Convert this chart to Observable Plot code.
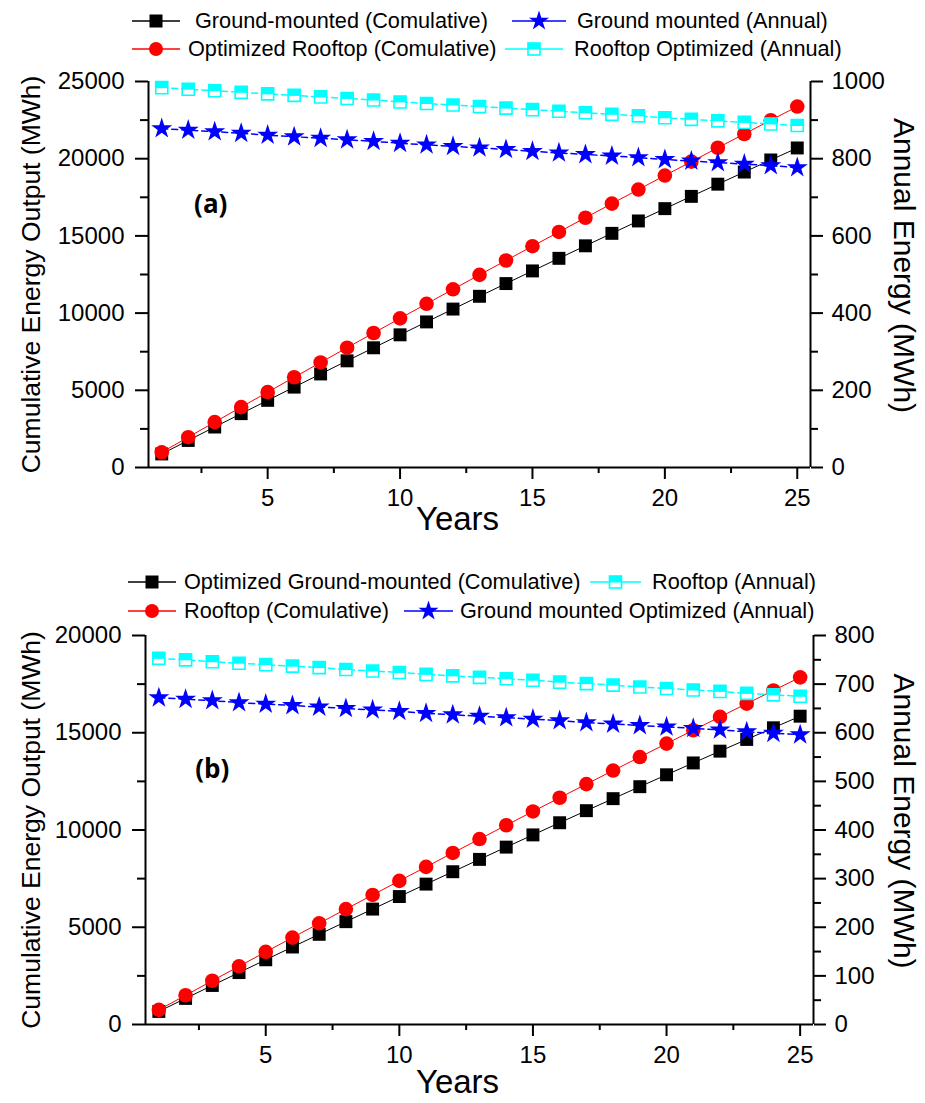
<!DOCTYPE html>
<html><head><meta charset="utf-8">
<script src="https://cdn.jsdelivr.net/npm/d3@7"></script>
<script src="https://cdn.jsdelivr.net/npm/@observablehq/plot@0.6"></script>
<style>
body{margin:0;background:#fff;}
#root{position:relative;width:925px;height:1103px;overflow:hidden;font-family:"Liberation Sans",Arial,sans-serif;background:#fff;}
.leg{position:absolute;display:flex;align-items:center;font-size:21.7px;white-space:nowrap;color:#000;transform:translateY(-50%);}
.leg svg{display:block;overflow:visible;}
.chart{position:absolute;left:0;}
</style></head><body><div id="root"></div>
<script>
// ---------- data ----------
const years = [1,2,3,4,5,6,7,8,9,10,11,12,13,14,15,16,17,18,19,20,21,22,23,24,25];

// Panel (a)
const groundCumA   = [878,1752,2622,3488,4349,5206,6059,6908,7753,8593,9429,10261,11089,11913,12732,13547,14358,15165,15968,16766,17560,18350,19136,19918,20695];
const roofOptCumA  = [984,1964,2940,3912,4880,5844,6804,7760,8712,9659,10602,11541,12476,13407,14334,15257,16176,17091,18002,18908,19810,20708,21602,22492,23378];
const groundAnnA   = [878,874,870,866,861,857,853,849,845,840,836,832,828,824,819,815,811,807,803,798,794,790,786,782,777];
const roofOptAnnA  = [984,980,976,972,968,964,960,956,952,947,943,939,935,931,927,923,919,915,911,906,902,898,894,890,886];

// Panel (b)
const optGroundCumB = [672,1341,2007,2669,3328,3984,4637,5287,5934,6578,7218,7855,8489,9120,9748,10373,10994,11612,12227,12839,13448,14054,14656,15255,15851];
const roofCumB      = [753,1503,2249,2992,3732,4469,5203,5933,6660,7384,8104,8821,9535,10246,10954,11658,12359,13057,13751,14442,15130,15815,16496,17174,17849];
const roofAnnB      = [753,750,746,743,740,737,734,730,727,724,720,717,714,711,708,704,701,698,694,691,688,685,681,678,675];
const groundOptAnnB = [672,669,666,662,659,656,653,650,647,644,640,637,634,631,628,625,621,618,615,612,609,606,602,599,596];

// ticks
const xMajor = [5,10,15,20,25];
const xMinor = [2.5,7.5,12.5,17.5,22.5];
const leftMajorA = [0,5000,10000,15000,20000,25000];
const leftMinorA = [2500,7500,12500,17500,22500];
const rightMajorA = [0,200,400,600,800,1000];
const rightMinorA = [100,300,500,700,900];
const leftMajorB = [0,5000,10000,15000,20000];
const leftMinorB = [2500,7500,12500,17500];
const rightMajorB = [0,100,200,300,400,500,600,700,800];
const rightMinorB = [50,150,250,350,450,550,650,750];

// labels
const legendA = ["Ground-mounted (Comulative)","Ground mounted (Annual)","Optimized Rooftop (Comulative)","Rooftop Optimized (Annual)"];
const legendB = ["Optimized Ground-mounted (Comulative)","Rooftop (Annual)","Rooftop (Comulative)","Ground mounted Optimized (Annual)"];
const xTitle = "Years";
const yLeftTitle = "Cumulative Energy Output (MWh)";
const yRightTitle = "Annual Energy (MWh)";

// ---------- styles ----------
const BLACK = "#000000", RED = "#ff0000", BLUE = "#0000ff", CYAN = "#00ffff";
const FONT = "'Liberation Sans', Arial, sans-serif";

const halfSquare = {
  draw(ctx, size) {
    const s = Math.sqrt(size) / 2;
    ctx.moveTo(-s, -s); ctx.lineTo(s, -s); ctx.lineTo(s, 0.5); ctx.lineTo(-s, 0.5); ctx.closePath();
  }
};

const rows = (vals) => years.map((yr, i) => ({year: yr, v: vals[i]}));

function seriesMarks(data, {color, symbol, r, dashed, width, halfFill}) {
  const marks = [
    Plot.line(data, {x: "year", y: "v", stroke: color, strokeWidth: width, strokeDasharray: dashed ? "6,4" : null})
  ];
  if (halfFill) {
    marks.push(Plot.dot(data, {x: "year", y: "v", symbol: "square", r, fill: "white", stroke: color, strokeWidth: 1.6}));
    marks.push(Plot.dot(data, {x: "year", y: "v", symbol: halfSquare, r, fill: color, stroke: "none"}));
  } else {
    marks.push(Plot.dot(data, {x: "year", y: "v", symbol, r, fill: color, stroke: "none"}));
  }
  return marks;
}

function makePanel(cfg) {
  const k = cfg.ratio;
  return Plot.plot({
    width: 925, height: cfg.height,
    marginLeft: cfg.ml, marginRight: cfg.mr, marginTop: cfg.mt, marginBottom: cfg.mb,
    x: {domain: [0.5, 25.5]},
    y: {domain: [0, cfg.yMax]},
    style: {fontFamily: FONT, fontSize: "24px", color: "#000", background: "transparent", overflow: "visible"},
    marks: [
      Plot.axisX(xMajor, {tickSize: 12, tickPadding: 9, strokeWidth: 2, fontSize: 24, label: null}),
      Plot.axisX(xMinor, {tickSize: 6, strokeWidth: 2, tickFormat: () => "", label: null}),
      Plot.axisY(cfg.leftMajor, {anchor: "left", tickSize: 13, tickPadding: 11, strokeWidth: 2, fontSize: 24, tickFormat: d => String(d), label: null}),
      Plot.axisY(cfg.leftMinor, {anchor: "left", tickSize: 8, strokeWidth: 2, tickFormat: () => "", label: null}),
      Plot.axisY(cfg.rightMajor.map(v => v * k), {anchor: "right", tickSize: 12, tickPadding: 9, strokeWidth: 2, fontSize: 24, tickFormat: d => String(Math.round(d / k)), label: null}),
      Plot.axisY(cfg.rightMinor.map(v => v * k), {anchor: "right", tickSize: 7, strokeWidth: 2, tickFormat: () => "", label: null}),
      Plot.ruleX([0.5, 25.5], {y1: 0, y2: cfg.yMax, stroke: "#000", strokeWidth: 2}),
      Plot.ruleY([0], {x1: 0.5, x2: 25.5, stroke: "#000", strokeWidth: 2}),
      ...seriesMarks(rows(cfg.cum1), {color: BLACK, symbol: "square", r: 7.3, width: 1}),
      ...seriesMarks(rows(cfg.cum2), {color: RED, symbol: "circle", r: 7.3, width: 1}),
      ...seriesMarks(rows(cfg.ann1.map(v => v * k)), {color: BLUE, symbol: "star", r: 6.6, dashed: true, width: 1.5}),
      ...seriesMarks(rows(cfg.ann2.map(v => v * k)), {color: CYAN, symbol: "square", r: 6.8, dashed: true, width: 1.5, halfFill: true}),
      Plot.text([xTitle], {text: d => d, frameAnchor: "bottom", dy: cfg.xTitleDy, dx: -22, fontSize: 33}),
      Plot.text([yLeftTitle], {text: d => d, frameAnchor: "left", textAnchor: "middle", rotate: -90, dx: -(cfg.ml - 31), fontSize: 26.5}),
      Plot.text([yRightTitle], {text: d => d, frameAnchor: "right", textAnchor: "middle", rotate: 90, dx: cfg.mr - 22, dy: -9, fontSize: 30}),
      Plot.text([cfg.tag], {text: d => d, x: cfg.tagX, y: cfg.tagY, fontSize: 26, fontWeight: "bold", fontFamily: "'Open Sans', sans-serif"})
    ]
  });
}

function swatch(kind, color, w) {
  const h = 20, cx = w / 2, cy = h / 2;
  let m = "";
  if (kind === "square") m = `<rect x="${cx-6.5}" y="${cy-6.5}" width="13" height="13" fill="${color}"/>`;
  else if (kind === "circle") m = `<circle cx="${cx}" cy="${cy}" r="7" fill="${color}"/>`;
  else if (kind === "star") m = `<path transform="translate(${cx},${cy})" d="${d3.symbol(d3.symbolStar, Math.PI*40)()}" fill="${color}"/>`;
  else if (kind === "half") m = `<rect x="${cx-6}" y="${cy-6}" width="12" height="12" fill="white" stroke="${color}" stroke-width="1.6"/><rect x="${cx-6}" y="${cy-6}" width="12" height="6.5" fill="${color}"/>`;
  return `<svg width="${w}" height="${h}"><line x1="0" x2="${w}" y1="${cy}" y2="${cy}" stroke="${color}" stroke-width="1.5"/>${m}</svg>`;
}

const root = document.getElementById("root");
function addLegend(items) {
  for (const it of items) {
    const d = document.createElement("div");
    d.className = "leg";
    d.style.left = it.left + "px";
    d.style.top = it.top + "px";
    d.innerHTML = swatch(it.kind, it.color, it.w) + `<span style="margin-left:${it.gap}px">${it.label}</span>`;
    root.appendChild(d);
  }
}

// Panel (a)
addLegend([
  {left: 132, top: 21, kind: "square", color: BLACK, w: 48, gap: 15, label: legendA[0]},
  {left: 512, top: 21, kind: "star", color: BLUE, w: 54, gap: 11, label: legendA[1]},
  {left: 132, top: 49, kind: "circle", color: RED, w: 48, gap: 8, label: legendA[2]},
  {left: 505, top: 49, kind: "half", color: CYAN, w: 58, gap: 11, label: legendA[3]}
]);
const a = makePanel({
  height: 480, ml: 148, mr: 115, mt: 21, mb: 73, yMax: 25000, ratio: 25,
  leftMajor: leftMajorA, leftMinor: leftMinorA, rightMajor: rightMajorA, rightMinor: rightMinorA,
  cum1: groundCumA, cum2: roofOptCumA, ann1: groundAnnA, ann2: roofOptAnnA,
  xTitleDy: 62, tag: "(a)", tagX: 2.85, tagY: 17000
});
a.classList.add("chart"); a.style.top = "60px";
root.appendChild(a);

// Panel (b)
addLegend([
  {left: 128, top: 582, kind: "square", color: BLACK, w: 48, gap: 8, label: legendB[0]},
  {left: 590, top: 582, kind: "half", color: CYAN, w: 51, gap: 11, label: legendB[1]},
  {left: 128, top: 611, kind: "circle", color: RED, w: 48, gap: 8, label: legendB[2]},
  {left: 404, top: 611, kind: "star", color: BLUE, w: 49, gap: 7, label: legendB[3]}
]);
const b = makePanel({
  height: 483, ml: 145, mr: 112, mt: 15, mb: 79, yMax: 20000, ratio: 25,
  leftMajor: leftMajorB, leftMinor: leftMinorB, rightMajor: rightMajorB, rightMinor: rightMinorB,
  cum1: optGroundCumB, cum2: roofCumB, ann1: groundOptAnnB, ann2: roofAnnB,
  xTitleDy: 68, tag: "(b)", tagX: 3.0, tagY: 13100
});
b.classList.add("chart"); b.style.top = "620px";
root.appendChild(b);
</script>
</body></html>
